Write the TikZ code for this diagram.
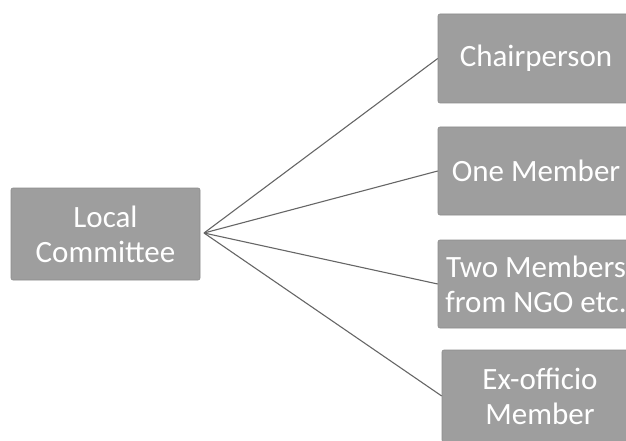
\documentclass[tikz,border=0pt]{standalone}
\usepackage{fontspec}
\setmainfont{Carlito}
\begin{document}
\begin{tikzpicture}[x=1pt,y=-1pt,
  box/.style={fill=black!38,draw=black!45,line width=0.6pt,rounded corners=2pt,text=white,
    font=\fontsize{31}{35}\selectfont,align=center,inner sep=0pt},
  conn/.style={draw=black!60,line width=1.1pt}]
\useasboundingbox (0,0) rectangle (626,441);
\clip (0,0) rectangle (626,441);
\node[box,minimum width=189pt,minimum height=92pt] (lc) at (105.5,234) {Local\\Committee};
\node[box,minimum width=196pt,minimum height=89pt] (c) at (536,58.5) {Chairperson};
\node[box,minimum width=196pt,minimum height=88pt] (o) at (536,171) {One Member};
\node[box,minimum width=196pt,minimum height=88pt] (t) at (536,284) {Two Members\\from NGO etc.};
\node[box,minimum width=196pt,minimum height=92pt] (e) at (540,396) {Ex-officio\\Member};
\coordinate (hub) at (204,233);
\draw[conn] (hub) -- (c.west);
\draw[conn] (hub) -- (o.west);
\draw[conn] (hub) -- (t.west);
\draw[conn] (hub) -- (e.west);
\end{tikzpicture}
\end{document}
